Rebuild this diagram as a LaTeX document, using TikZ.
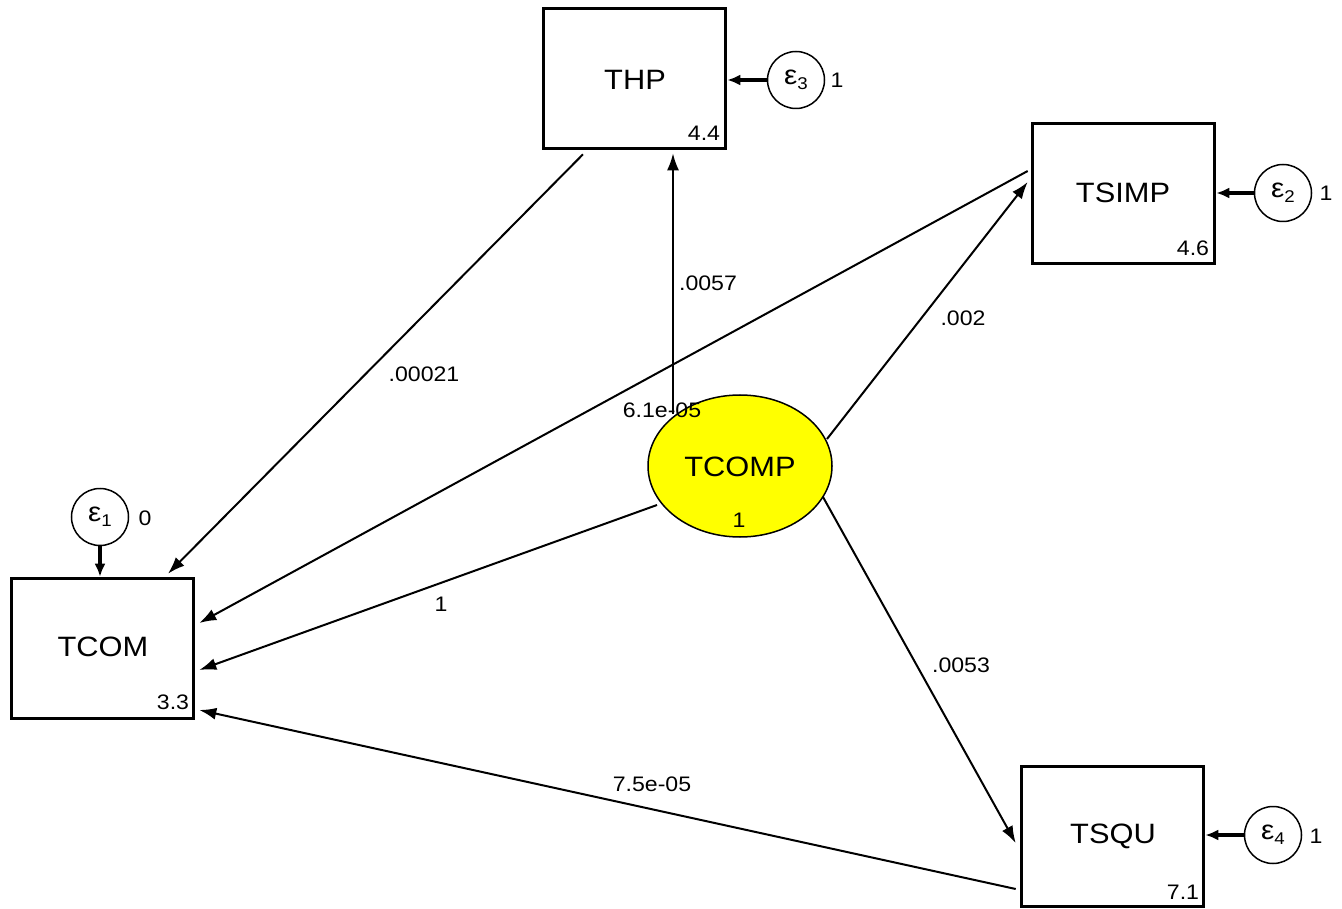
\documentclass[tikz,border=0pt]{standalone}
\usepackage{fontspec}
\setmainfont{Liberation Sans}[FakeStretch=1.1]
\usetikzlibrary{calc,arrows.meta,shapes.geometric}
\definecolor{pureyellow}{RGB}{255,255,0}
\tikzset{
  varbox/.style={draw=black, line width=3.6pt, fill=white, minimum width=182, minimum height=140, inner sep=0pt},
  errc/.style={draw=black, line width=1.5pt, fill=white, circle, minimum size=57, inner sep=0pt, font=\fontsize{27}{30}\selectfont},
  lat/.style={draw=black, line width=1.5pt, fill=pureyellow, ellipse, minimum width=184, minimum height=142, inner sep=0pt},
  title/.style={inner sep=0pt, font=\fontsize{28}{32}\selectfont},
  lbl/.style={inner sep=0pt, font=\fontsize{21}{24}\selectfont},
  path/.style={line width=2pt, -{Latex[length=17pt,width=12pt]}},
  errpath/.style={line width=3.2pt, -{Latex[length=13pt,width=11pt]}}
}
\newcommand{\eps}[1]{ε\raisebox{-5pt}{\fontsize{17}{18}\selectfont #1}}
\begin{document}
\begin{tikzpicture}[x=1pt,y=-1pt]
\useasboundingbox (0,0) rectangle (1342,909);
% boxes
\node[varbox] (THP) at (634.5,78.5) {};
\node[varbox] (TSIMP) at (1123.5,193.5) {};
\node[varbox] (TCOM) at (102.5,648.5) {};
\node[varbox] (TSQU) at (1112.5,836.5) {};
\node[lat] (TCOMP) at (740,466) {};
% titles
\node[title] (tTHP) at (635,80) {THP};
\node[title] (tTSIMP) at (1123,193) {TSIMP};
\node[title] (tTCOM) at (103,647) {TCOM};
\node[title] (tTSQU) at (1113,836) {TSQU};
\node[title] (tTCOMP) at (740,467) {TCOMP};
% intercepts
\node[lbl] (iTHP) at (704,133) {4.4};
\node[lbl] (iTSIMP) at (1193,248) {4.6};
\node[lbl] (iTCOM) at (173,702) {3.3};
\node[lbl] (iTSQU) at (1183,892) {7.1};
\node[lbl] (iTCOMP) at (739,520) {1};
% error terms
\node[errc] (e3) at (796,80) {\eps{3}};
\node[errc] (e2) at (1283,193) {\eps{2}};
\node[errc] (e1) at (100,517) {\eps{1}};
\node[errc] (e4) at (1273,835) {\eps{4}};
\node[lbl] (v3) at (837,80) {1};
\node[lbl] (v2) at (1326,193) {1};
\node[lbl] (v1) at (145,518) {0};
\node[lbl] (v4) at (1316,836) {1};
% error paths
\draw[errpath] (e3.west) -- (e3.west -| THP.east);
\draw[errpath] (e2.west) -- (e2.west -| TSIMP.east);
\draw[errpath] (e1.south) -- (e1.south |- TCOM.north);
\draw[errpath] (e4.west) -- (e4.west -| TSQU.east);
% structural paths
\draw[path] ($(THP.south)+(-51.5,4)$) -- ($(TCOM.north)+(65.5,-3)$);
\draw[path] ($(TCOMP.center)+(-67,-52)$) -- ($(THP.south)+(38.5,3)$);
\draw[path] ($(TSIMP.west)+(-3,-22.5)$) -- ($(TCOM.east)+(4,-25.5)$);
\draw[path] ($(TCOMP.center)+(-83,39)$) -- ($(TCOM.east)+(4,21.5)$);
\draw[path] ($(TCOMP.center)+(87,-27)$) -- ($(TSIMP.west)+(-3,-11.5)$);
\draw[path] ($(TCOMP.center)+(83,31)$) -- ($(TSQU.west)+(-4,6.5)$);
\draw[path] ($(TSQU.west)+(-4,52.5)$) -- ($(TCOM.east)+(4,61.5)$);
% path labels
\node[lbl] (l1) at (424,374) {.00021};
\node[lbl] (l2) at (708,283) {.0057};
\node[lbl] (l3) at (662,410) {6.1e-05};
\node[lbl] (l4) at (441,604) {1};
\node[lbl] (l5) at (963,318) {.002};
\node[lbl] (l6) at (961,665) {.0053};
\node[lbl] (l7) at (652,784) {7.5e-05};
\end{tikzpicture}
\end{document}
